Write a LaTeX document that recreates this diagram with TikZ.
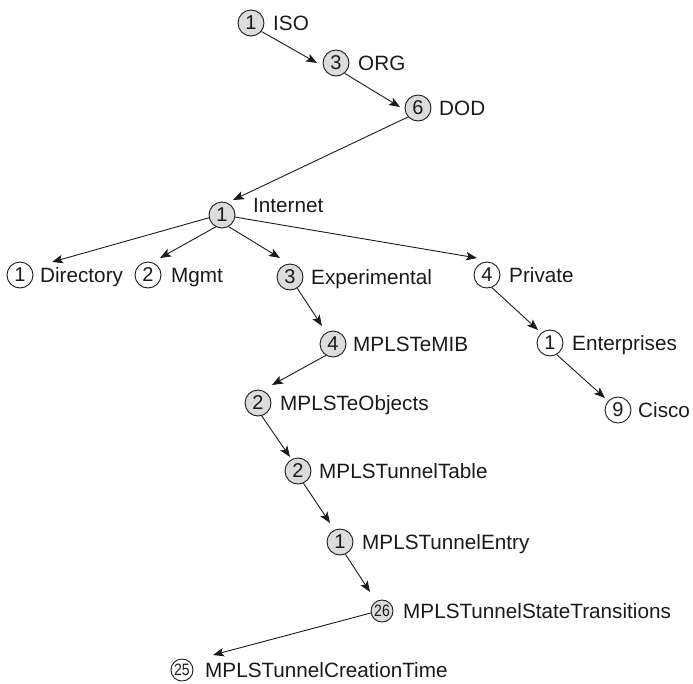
\documentclass[tikz,border=0pt]{standalone}
\usepackage{fontspec}
\setmainfont{Liberation Sans}
\usetikzlibrary{arrows.meta}
\definecolor{cfill}{HTML}{DCDCDC}
\definecolor{ink}{HTML}{1A1A1A}
\tikzset{
  circ/.style={circle, draw=ink, line width=0.9pt, inner sep=0pt, minimum size=26pt,
    font=\fontsize{20}{22}\selectfont, text=ink},
  gc/.style={circ, fill=cfill},
  wc/.style={circ, fill=white},
  sgc/.style={circ, fill=cfill, minimum size=22pt, font=\fontsize{16.5}{18}\selectfont},
  swc/.style={circ, fill=white, minimum size=22pt, font=\fontsize{16.5}{18}\selectfont},
  lbl/.style={anchor=base west, inner sep=0pt, text=ink, font=\fontsize{20.7}{24}\selectfont},
  arr/.style={draw=ink, line width=0.9pt, -{Stealth[length=11pt, width=8.5pt, inset=2.5pt]}}
}
\begin{document}
\begin{tikzpicture}[x=1pt, y=-1pt]
\useasboundingbox (0,0) rectangle (693,683);
% circles
\node[gc] (iso) at (251,23) {1};
\node[gc] (org) at (336,63) {3};
\node[gc] (dod) at (418,108) {6};
\node[gc] (inet) at (222,215) {1};
\node[wc] (dir) at (20,275) {1};
\node[wc] (mgmt) at (148,275) {2};
\node[gc] (exp) at (290,277) {3};
\node[wc] (priv) at (487,275) {4};
\node[gc] (mib) at (333,344) {4};
\node[wc] (ent) at (550,343) {1};
\node[gc] (obj) at (258,403) {2};
\node[wc] (cisco) at (618,410) {9};
\node[gc] (tab) at (298,471) {2};
\node[gc] (entry) at (340,542) {1};
\node[sgc] (st) at (382,611) {\scalebox{0.85}[1]{26}};
\node[swc] (ct) at (182,670) {\scalebox{0.85}[1]{25}};
% labels
\node[lbl] (isoT) at (273,30.3) {ISO};
\node[lbl] (orgT) at (358,70.3) {ORG};
\node[lbl] (dodT) at (439,115.3) {DOD};
\node[lbl] (inetT) at (253,212.3) {Internet};
\node[lbl] (dirT) at (40,282.3) {Directory};
\node[lbl] (mgmtT) at (171,282.3) {Mgmt};
\node[lbl] (expT) at (311,284.3) {Experimental};
\node[lbl] (privT) at (509,282.3) {Private};
\node[lbl] (mibT) at (353,351.3) {MPLSTeMIB};
\node[lbl] (entT) at (572,350.3) {Enterprises};
\node[lbl] (objT) at (280,410.3) {MPLSTeObjects};
\node[lbl] (ciscoT) at (638,417.3) {Cisco};
\node[lbl] (tabT) at (319,478.3) {MPLSTunnelTable};
\node[lbl] (entryT) at (362,549.3) {MPLSTunnelEntry};
\node[lbl] (stT) at (403,618.3) {MPLSTunnelStateTransitions};
\node[lbl] (ctT) at (205,677.3) {MPLSTunnelCreationTime};
% connectors
\draw[arr] (iso.-39) -- ([shift={(-19,0)}]org.center);
\draw[arr] (org.-50) -- ([shift={(-18,-1)}]dod.center);
\draw[arr] (dod.-138) -- ([shift={(11,-15)}]inet.center);
\draw[arr] (inet.-168) -- ([shift={(32,-13)}]dir.center);
\draw[arr] (inet.-118) -- ([shift={(12,-17)}]mgmt.center);
\draw[arr] (inet.-60) -- ([shift={(-10,-19)}]exp.center);
\draw[arr] (inet.-9) -- ([shift={(-10,-17)}]priv.center);
\draw[arr] (exp.-57) -- ([shift={(-11,-18)}]mib.center);
\draw[arr] (mib.-122) -- ([shift={(14,-18)}]obj.center);
\draw[arr] (obj.-74) -- ([shift={(-8,-14)}]tab.center);
\draw[arr] (tab.-66) -- ([shift={(-10,-19)}]entry.center);
\draw[arr] (entry.-66) -- ([shift={(-12,-19)}]st.center);
\draw[arr] (st.-170) -- ([shift={(31,-15)}]ct.center);
\draw[arr] (priv.-69) -- ([shift={(-12,-13)}]ent.center);
\draw[arr] (ent.-60) -- ([shift={(-13,-12)}]cisco.center);
\end{tikzpicture}
\end{document}
